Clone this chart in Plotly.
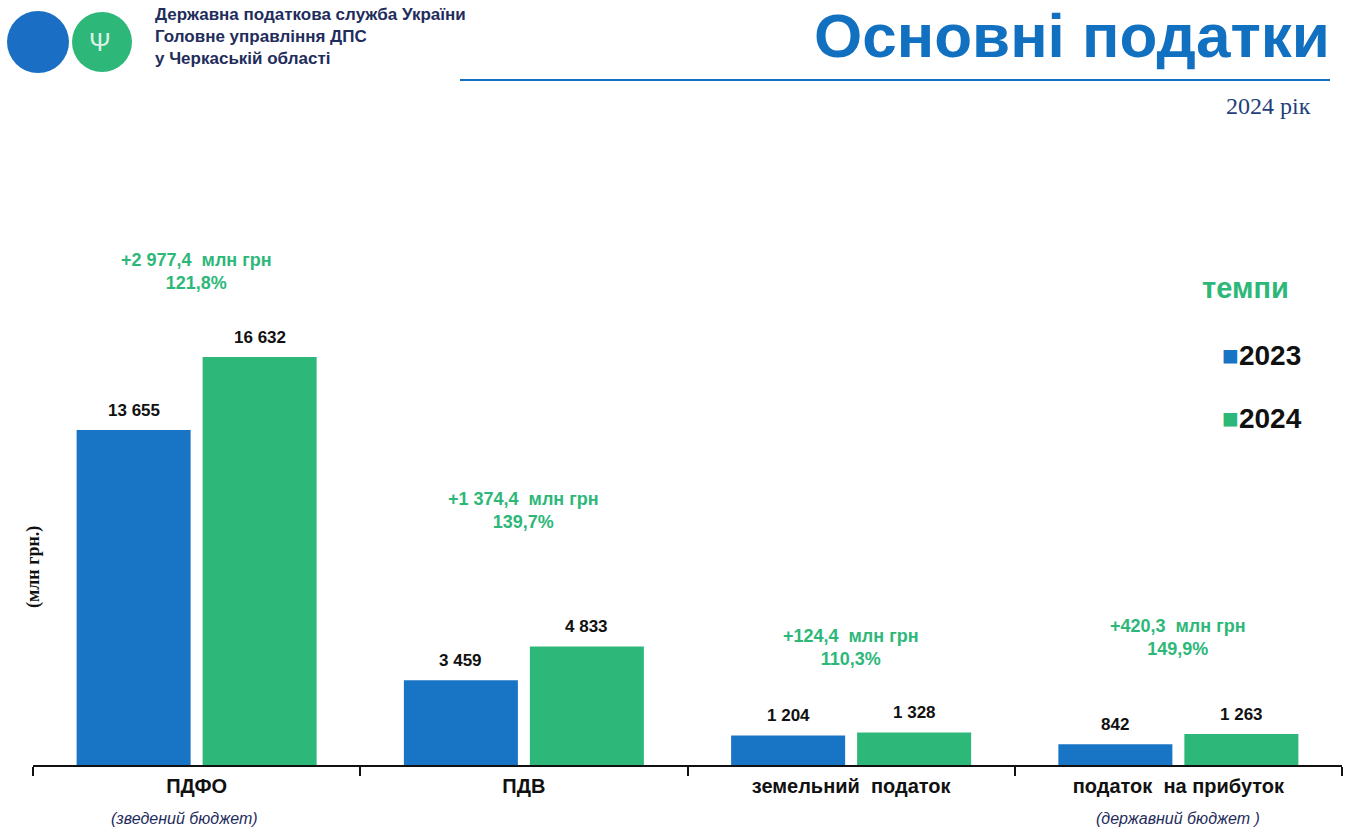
import plotly.graph_objects as go

# ---- data ----
categories = ["ПДФО", "ПДВ", "земельний  податок", "податок  на прибуток"]
subtitles = ["(зведений бюджет)", "", "", "(державний бюджет )"]
values_2023 = [13655, 3459, 1204, 842]
values_2024 = [16632, 4833, 1328, 1263]
diff_mln = ["+2 977,4", "+1 374,4", "+124,4", "+420,3"]
growth_pct = ["121,8%", "139,7%", "110,3%", "149,9%"]
series_names = ["2023", "2024"]

# ---- style / layout constants ----
W, H = 1349, 830
ML, MR, MT, MB = 33, 7, 200, 65
BLUE = "#1874C4"
GREEN = "#2DB87A"
TITLE_BLUE = "#1270C0"
NAVY = "#1F2D5C"
FONT = "Liberation Sans, Arial, sans-serif"
SERIF = "Liberation Serif, Times New Roman, serif"
BARGAP = 0.23
BARGROUPGAP = 0.095
YMAX = 23030
# pixel y centres of the growth annotations
growth_py = [271, 511, 647, 637]

PW = W - ML - MR
PH = H - MT - MB


def px(x):
    return (x - ML) / PW


def py(y):
    return (H - MB - y) / PH


fig = go.Figure()
fig.add_trace(go.Bar(x=categories, y=values_2023, name=series_names[0],
                     marker=dict(color=BLUE, line=dict(width=0))))
fig.add_trace(go.Bar(x=categories, y=values_2024, name=series_names[1],
                     marker=dict(color=GREEN, line=dict(width=0))))

ann = []
off = (1 - BARGAP) / 4


def fmt(v):
    return f"{v:,}".replace(",", " ")


def note(**kw):
    d = dict(showarrow=False, xanchor="center", yanchor="middle")
    d.update(kw)
    ann.append(d)


for i, cat in enumerate(categories):
    for vals, sign in ((values_2023, -1), (values_2024, 1)):
        note(x=i + sign * off, y=vals[i], xref="x", yref="y", yanchor="bottom", yshift=8,
             text=fmt(vals[i]),
             font=dict(family=FONT, size=17, color="#111111", weight="bold"))
    note(x=i, y=py(growth_py[i]), xref="x", yref="paper",
         text=f"{diff_mln[i]}  млн грн<br>{growth_pct[i]}",
         font=dict(family=FONT, size=18, color=GREEN, weight="bold"))
    if subtitles[i]:
        note(x=i, y=py(818), xref="x", yref="paper", xshift=-12 if i == 0 else 0,
             text=f"<i>{subtitles[i]}</i>",
             font=dict(family=FONT, size=16, color=NAVY))

# header texts
note(x=px(153), y=py(37), xref="paper", yref="paper", xanchor="left", align="left",
     text="Державна податкова служба України<br>Головне управління ДПС<br>у Черкаській області",
     font=dict(family=FONT, size=17, color=NAVY, weight="bold"))
note(x=px(1332), y=py(36), xref="paper", yref="paper", xanchor="right",
     text="Основні податки",
     font=dict(family=FONT, size=62, color=TITLE_BLUE, weight="bold"))
note(x=px(1313), y=py(106), xref="paper", yref="paper", xanchor="right",
     text="2024 рік", font=dict(family=SERIF, size=24, color="#1F3F7A"))
note(x=px(100), y=py(42), xref="paper", yref="paper", text="Ψ",
     font=dict(family=FONT, size=26, color="#DDF2E6"))
# y-axis label
note(x=px(33), y=py(567), xref="paper", yref="paper", textangle=-90,
     text="(млн грн.)", font=dict(family=SERIF, size=18, color="#111111", weight="bold"))
# legend-like labels
note(x=px(1245), y=py(288), xref="paper", yref="paper", text="темпи",
     font=dict(family=FONT, size=29, color=GREEN, weight="bold"))
for name, col, yy in ((series_names[0], BLUE, 355), (series_names[1], GREEN, 418)):
    note(x=px(1220), y=py(yy), xref="paper", yref="paper", xanchor="left",
         text=f"<span style='color:{col}'>■</span>{name}",
         font=dict(family=FONT, size=28, color="#111111", weight="bold"))

shapes = [
    dict(type="circle", xref="paper", yref="paper", xsizemode="pixel", ysizemode="pixel",
         xanchor=px(38), yanchor=py(42), x0=-31, x1=31, y0=-31, y1=31,
         fillcolor="#1A6FC4", line=dict(width=0)),
    dict(type="circle", xref="paper", yref="paper", xsizemode="pixel", ysizemode="pixel",
         xanchor=px(102), yanchor=py(42), x0=-30, x1=30, y0=-30, y1=30,
         fillcolor=GREEN, line=dict(width=0)),
    dict(type="line", xref="paper", yref="paper", x0=px(460), x1=px(1330), y0=py(80), y1=py(80),
         line=dict(color=TITLE_BLUE, width=2)),
]

fig.update_layout(
    width=W, height=H, autosize=False,
    margin=dict(l=ML, r=MR, t=MT, b=MB),
    paper_bgcolor="white", plot_bgcolor="white",
    barmode="group", bargap=BARGAP, bargroupgap=BARGROUPGAP,
    showlegend=False,
    annotations=ann, shapes=shapes,
    font=dict(family=FONT),
)
fig.update_xaxes(showline=True, linecolor="#111111", linewidth=2, ticks="outside",
                 tickson="boundaries", ticklen=9, tickwidth=2, tickcolor="#111111",
                 tickfont=dict(family=FONT, size=20, color="#111111", weight="bold"),
                 ticklabelstandoff=2, showgrid=False)
fig.update_yaxes(range=[0, YMAX], visible=False, showgrid=False, zeroline=False)

fig.write_html("out.html")
